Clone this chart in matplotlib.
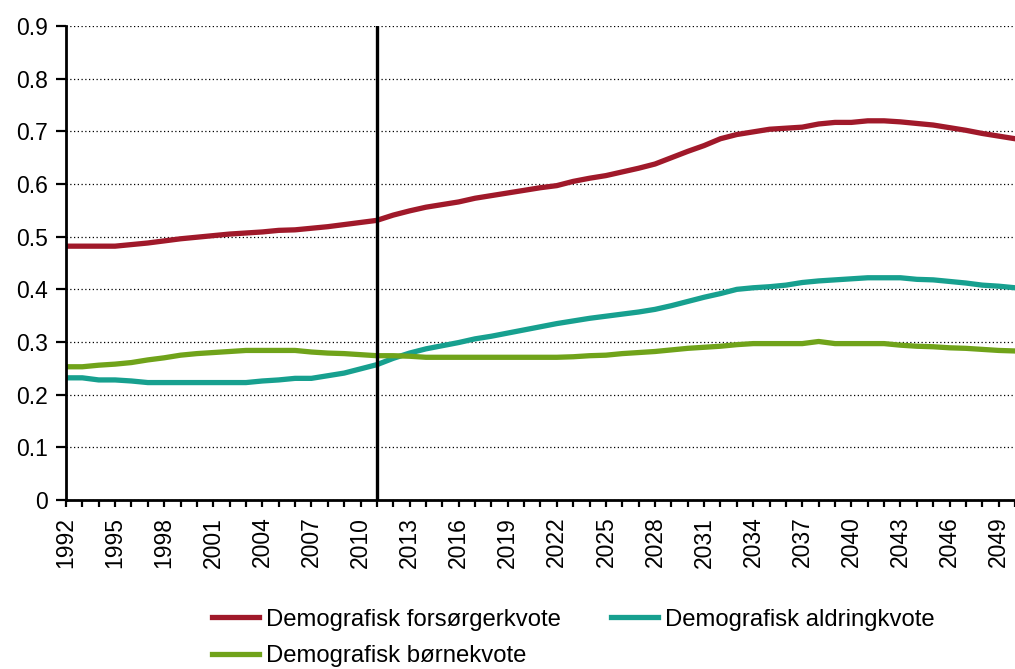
import numpy as np
import matplotlib
matplotlib.use("Agg")
import matplotlib.pyplot as plt
from matplotlib.ticker import MultipleLocator, FuncFormatter

plt.rcParams['font.family'] = ['Liberation Sans', 'DejaVu Sans']

years = np.arange(1992, 2051)

forsoerger = [0.482, 0.482, 0.482, 0.482, 0.485, 0.488, 0.492, 0.496, 0.499, 0.502,
              0.505, 0.507, 0.509, 0.512, 0.513, 0.516, 0.519, 0.523, 0.527, 0.531,
              0.541, 0.549, 0.556, 0.561, 0.566, 0.573, 0.578, 0.583, 0.588, 0.593,
              0.597, 0.605, 0.611, 0.616, 0.623, 0.630, 0.638, 0.650, 0.662, 0.673,
              0.686, 0.694, 0.699, 0.704, 0.706, 0.708, 0.714, 0.717, 0.717, 0.720,
              0.720, 0.718, 0.715, 0.712, 0.707, 0.702, 0.696, 0.691, 0.686]

aldring = [0.232, 0.232, 0.228, 0.228, 0.226, 0.223, 0.223, 0.223, 0.223, 0.223,
           0.223, 0.223, 0.226, 0.228, 0.231, 0.231, 0.236, 0.241, 0.249, 0.257,
           0.269, 0.279, 0.287, 0.293, 0.299, 0.306, 0.311, 0.317, 0.323, 0.329,
           0.335, 0.340, 0.345, 0.349, 0.353, 0.357, 0.362, 0.369, 0.377, 0.385,
           0.392, 0.400, 0.403, 0.405, 0.408, 0.413, 0.416, 0.418, 0.420, 0.422,
           0.422, 0.422, 0.419, 0.418, 0.415, 0.412, 0.408, 0.406, 0.403]

boerne = [0.253, 0.253, 0.256, 0.258, 0.261, 0.266, 0.270, 0.275, 0.278, 0.280,
          0.282, 0.284, 0.284, 0.284, 0.284, 0.281, 0.279, 0.278, 0.276, 0.274,
          0.274, 0.273, 0.271, 0.271, 0.271, 0.271, 0.271, 0.271, 0.271, 0.271,
          0.271, 0.272, 0.274, 0.275, 0.278, 0.280, 0.282, 0.285, 0.288, 0.290,
          0.292, 0.295, 0.297, 0.297, 0.297, 0.297, 0.301, 0.297, 0.297, 0.297,
          0.297, 0.294, 0.292, 0.291, 0.289, 0.288, 0.286, 0.284, 0.283]

split_year = 2011

fig = plt.figure(figsize=(10.15, 6.69), dpi=100)
ax = fig.add_axes([0.065, 0.2526, 0.935, 0.7085])

l1, = ax.plot(years, forsoerger, color='#A0192A', lw=3.8, label='Demografisk forsørgerkvote')
l2, = ax.plot(years, aldring, color='#17A08F', lw=3.8, label='Demografisk aldringkvote')
l3, = ax.plot(years, boerne, color='#70A31A', lw=3.8, label='Demografisk børnekvote')
ax.axvline(split_year, color='black', lw=2.4)

ax.set_xlim(1992, 2049.75)
ax.set_ylim(0, 0.9)
ax.yaxis.set_major_locator(MultipleLocator(0.1))
ax.yaxis.set_major_formatter(FuncFormatter(lambda v, p: '0' if abs(v) < 1e-9 else f'{v:.1f}'))
ax.set_xticks(years[::3])
ax.set_xticks(years, minor=True)
ax.tick_params(axis='x', which='both', direction='out', length=5, width=1.6, rotation=90,
               labelsize=16.5, pad=7)
ax.tick_params(axis='y', direction='out', length=7, width=1.6, labelsize=16.5, pad=6)
ax.grid(axis='y', color='black', linestyle=(0, (1, 2)), lw=0.9)
ax.set_axisbelow(True)
for s in ['top', 'right']:
    ax.spines[s].set_visible(False)
for s in ['left', 'bottom']:
    ax.spines[s].set_linewidth(2)

fig.legend(handles=[l1, l3, l2], ncol=2, loc='lower left', bbox_to_anchor=(0.209, 0.003),
           frameon=False, fontsize=17.2, handlelength=1.95, handletextpad=0.3,
           columnspacing=2.1, labelspacing=0.6, borderaxespad=0, borderpad=0)

fig.savefig('out.png', dpi=100)
